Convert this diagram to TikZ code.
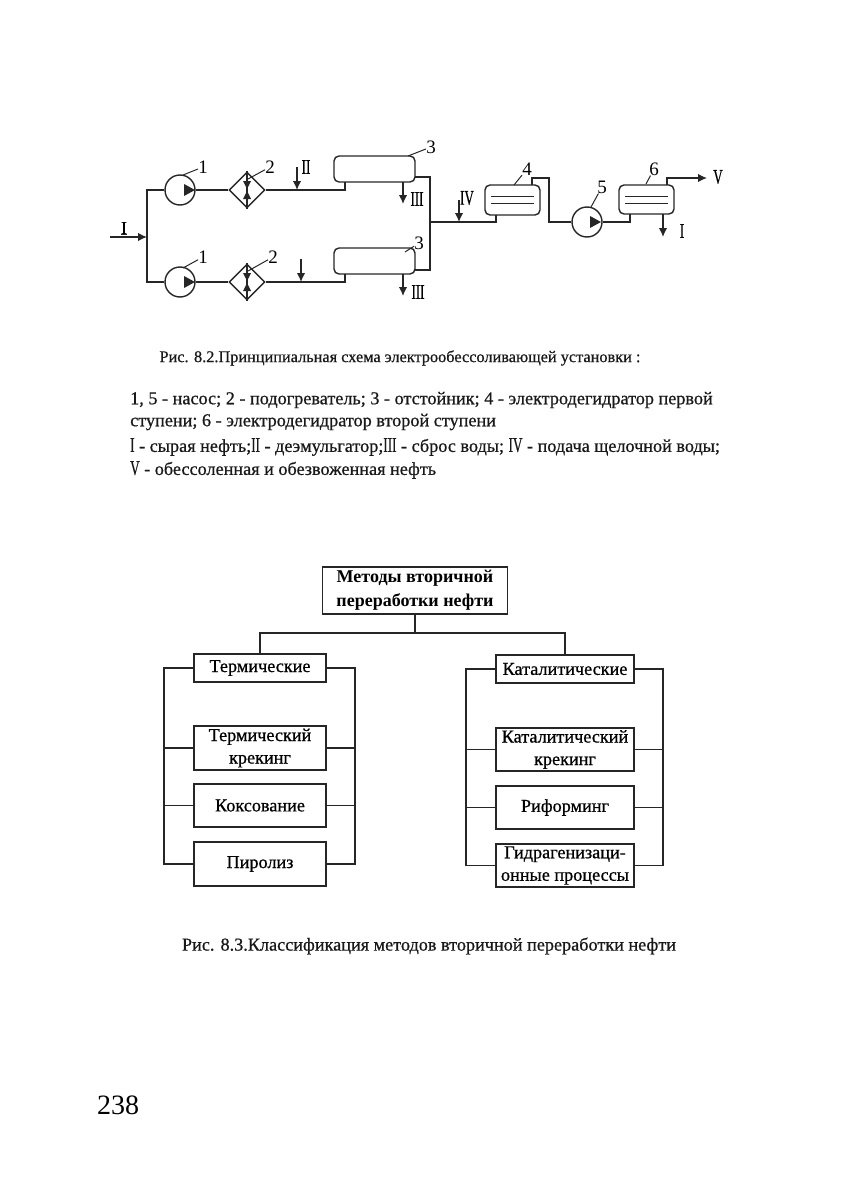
\documentclass[tikz,border=0pt]{standalone}
\usepackage{fontspec}
\setmainfont{Liberation Serif}
\newfontfamily\scanfont[FakeBold=0.7]{Liberation Serif}
\usetikzlibrary{arrows.meta,shapes.geometric}
\newcommand{\rimnum}[1]{\scalebox{0.72}[1.15]{#1}}
\begin{document}
\begin{tikzpicture}[
  x=1pt, y=-1pt,
  schline/.style = {line width=1.4pt, black!85},
  schflow/.style = {schline, -{Latex[length=9pt,width=8.5pt]}},
  schpump/.style = {circle, draw=black!85, line width=1.4pt, minimum size=30pt, inner sep=0pt},
  schheat/.style = {diamond, draw=black!85, line width=1.4pt, minimum size=36pt, inner sep=0pt},
  schtank/.style = {rectangle, rounded corners=5pt, draw=black!85, line width=1.4pt, inner sep=0pt},
  schnum/.style = {font=\fontsize{19}{19}\selectfont, inner sep=0pt},
  schleader/.style = {line width=1pt, black!85},
  schrim/.style = {font=\fontsize{18}{18}\selectfont\scanfont, inner sep=0pt},
  chartbox/.style = {rectangle, draw=black!85, line width=1.9pt, align=center, inner sep=0pt,
    font=\fontsize{18.2}{22.5}\selectfont\scanfont},
  chartline/.style = {line width=1.7pt, black!85},
  pagetext/.style = {font=\fontsize{18.2}{18.2}\selectfont\scanfont, inner sep=0pt, black!90}
]
  \useasboundingbox (0,0) rectangle (843,1188);
  % pumps and heaters, two parallel rows
  \foreach \n/\y in {a/190,b/282} {
    \node[schpump] (pump\n) at (180,\y) {};
    \node[schheat] (heat\n) at (247,\y) {};
    \fill[black!85] (184,\y-6) -- (195,\y) -- (184,\y+6) -- cycle;
    \draw[schline] (pump\n.east) -- (heat\n.west);
    \draw[schline] (heat\n.north) -- (heat\n.south);
    \fill[black!85] (243,\y-9) -- (251,\y-9) -- (247,\y-1) -- cycle;
    \fill[black!85] (243,\y+9) -- (251,\y+9) -- (247,\y+1) -- cycle;
  }
  % settlers
  \node[schtank, minimum width=81pt, minimum height=26pt] (tanka) at (374.5,169) {};
  \node[schtank, minimum width=81pt, minimum height=26pt] (tankb) at (374.5,261) {};
  % dehydrators
  \node[schtank, minimum width=55pt, minimum height=30pt] (dehyd) at (512.5,200) {};
  \node[schtank, minimum width=55pt, minimum height=29pt] (dehye) at (646.5,199.5) {};
  \node[schpump] (pumpc) at (587,222) {};
  \fill[black!85] (590,216) -- (601,222) -- (590,228) -- cycle;
  \foreach \n/\xa/\xb in {d/491/534,e/625/668} {
    \draw[schline, line width=1pt] (\xa,196) -- (\xb,196);
    \draw[schline, line width=1pt] (\xa,203) -- (\xb,203);
  }
  % feed line
  \coordinate (feedin) at (110,237);
  \coordinate (feedbus) at (147,237);
  \coordinate (feedtop) at (147,190);
  \coordinate (feedbot) at (147,282);
  \draw[schflow] (feedin) -- (feedbus);
  \draw[schline] (pumpa.west) -- (feedtop) -- (feedbot) -- (pumpb.west);
  % heaters to settlers
  \coordinate (inleta) at (345,182);
  \coordinate (inletb) at (345,274);
  \draw[schline] (heata.east) -| (inleta);
  \draw[schline] (heatb.east) -| (inletb);
  % settlers to collector
  \coordinate (colta) at (415,177);
  \coordinate (coltb) at (415,270);
  \coordinate (collect) at (430,222);
  \draw[schline] (colta) -| (collect) |- (coltb);
  \coordinate (inletd) at (496,215);
  \draw[schline] (collect) -| (inletd);
  % first dehydrator to pump
  \coordinate (outd) at (532,185);
  \coordinate (inlete) at (630,214);
  \draw[schline] (outd) |- (549,178) |- (pumpc.west);
  \draw[schline] (pumpc.east) -| (inlete);
  % product and water
  \coordinate (oute) at (667,185);
  \coordinate (prod) at (707,178);
  \draw[schflow] (oute) |- (prod);
  % short arrows, free ends
  \foreach \xa/\ya/\yb in {297/167/190,301/259/282,403/182/204,403/274/296,459/200/222,663/214/237} {
    \draw[schflow] (\xa,\ya) -- (\xa,\yb);
  }
  % roman labels
  \node[schrim] (rima) at (124,228) {I};
  \draw[schline, line width=0.8pt] (rima.south west) -- (rima.south east);
  \node[schrim] (rimb) at (306,167) {\rimnum{II}};
  \node[schrim] (rimc) at (417,199) {\rimnum{III}};
  \node[schrim] (rimd) at (418,292) {\rimnum{III}};
  \node[schrim] (rime) at (467,198) {\rimnum{IV}};
  \node[schrim] (rimf) at (718,177) {\rimnum{V}};
  \node[schrim] (rimg) at (682,231) {\rimnum{I}};
  % numbers and their leaders
  \foreach \n/\t/\lx/\ly/\ex/\ey in {
    a/1/203/167/183/175, b/1/203/257/183/268,
    c/2/270/167/248/179, d/2/273/257/248/271,
    e/3/431/147/408/156, f/3/419/243/405/252,
    g/4/527/169/514/185, h/5/602/187/591/207,
    i/6/654/169/646/184} {
    \node[schnum] (num\n) at (\lx,\ly) {\t};
    \coordinate (ldr\n) at (\ex,\ey);
    \draw[schleader] (ldr\n) -- (num\n);
  }
  % caption and legend
  \node[pagetext, font=\fontsize{16.3}{16.3}\selectfont\scanfont] (capa) at (400,358) {Рис. 8.2.Принципиальная схема электрообессоливающей установки :};
  \node[pagetext, anchor=west] (lega) at (130,400) {1, 5 - насос; 2 - подогреватель; 3 - отстойник; 4 - электродегидратор первой};
  \node[pagetext, anchor=west] (legb) at (130,422) {ступени; 6 - электродегидратор второй ступени};
  \node[pagetext, anchor=west] (legc) at (130,447) {\rimnum{I} - сырая нефть;\rimnum{II} - деэмульгатор;\rimnum{III} - сброс воды; \rimnum{IV} - подача щелочной воды;};
  \node[pagetext, anchor=west] (legd) at (130,470) {\rimnum{V} - обессоленная и обезвоженная нефть};
  % classification chart
  \node[chartbox, minimum width=185pt, minimum height=47pt, font=\fontsize{18}{24}\selectfont\bfseries] (root) at (415,590.5) {Методы вторичной\\переработки нефти};
  \node[chartbox, minimum width=132pt, minimum height=28pt, line width=2.3pt] (therm) at (260,668) {Термические};
  \node[chartbox, minimum width=138pt, minimum height=28pt, line width=2.3pt] (catal) at (565,669) {Каталитические};
  \node[chartbox, minimum width=132pt, minimum height=44pt] (thcrack) at (260,748) {Термический\\крекинг};
  \node[chartbox, minimum width=132pt, minimum height=43pt] (coking) at (260,805.5) {Коксование};
  \node[chartbox, minimum width=132pt, minimum height=44pt] (pyrol) at (260,864) {Пиролиз};
  \node[chartbox, minimum width=138pt, minimum height=43pt] (cacrack) at (565,749.5) {Каталитический\\крекинг};
  \node[chartbox, minimum width=138pt, minimum height=43pt] (reform) at (565,807.5) {Риформинг};
  \node[chartbox, minimum width=138pt, minimum height=43pt] (hydro) at (565,865.5) {Гидрагенизаци-\\онные процессы};
  \coordinate (split) at (415,633);
  \draw[chartline] (root.south) -- (split);
  \draw[chartline] (therm.north) |- (split) -| (catal.north);
  \coordinate (railtl) at (164,668);
  \coordinate (railtr) at (355,668);
  \coordinate (raicl) at (466,669);
  \coordinate (raicr) at (663,669);
  \draw[chartline] (therm.west) -- (railtl) |- (pyrol.west);
  \draw[chartline] (therm.east) -- (railtr) |- (pyrol.east);
  \draw[chartline] (catal.west) -- (raicl) |- (hydro.west);
  \draw[chartline] (catal.east) -- (raicr) |- (hydro.east);
  \foreach \n in {thcrack,coking} {
    \draw[chartline] (\n.west) -- (\n.west -| railtl);
    \draw[chartline] (\n.east) -- (\n.east -| railtr);
  }
  \foreach \n in {cacrack,reform} {
    \draw[chartline] (\n.west) -- (\n.west -| raicl);
    \draw[chartline] (\n.east) -- (\n.east -| raicr);
  }
  \node[pagetext] (capb) at (429,946) {Рис. 8.3.Классификация методов вторичной переработки нефти};
  \node[font=\fontsize{28}{28}\selectfont, inner sep=0pt] (pagenum) at (118,1105) {238};
\end{tikzpicture}
\end{document}
